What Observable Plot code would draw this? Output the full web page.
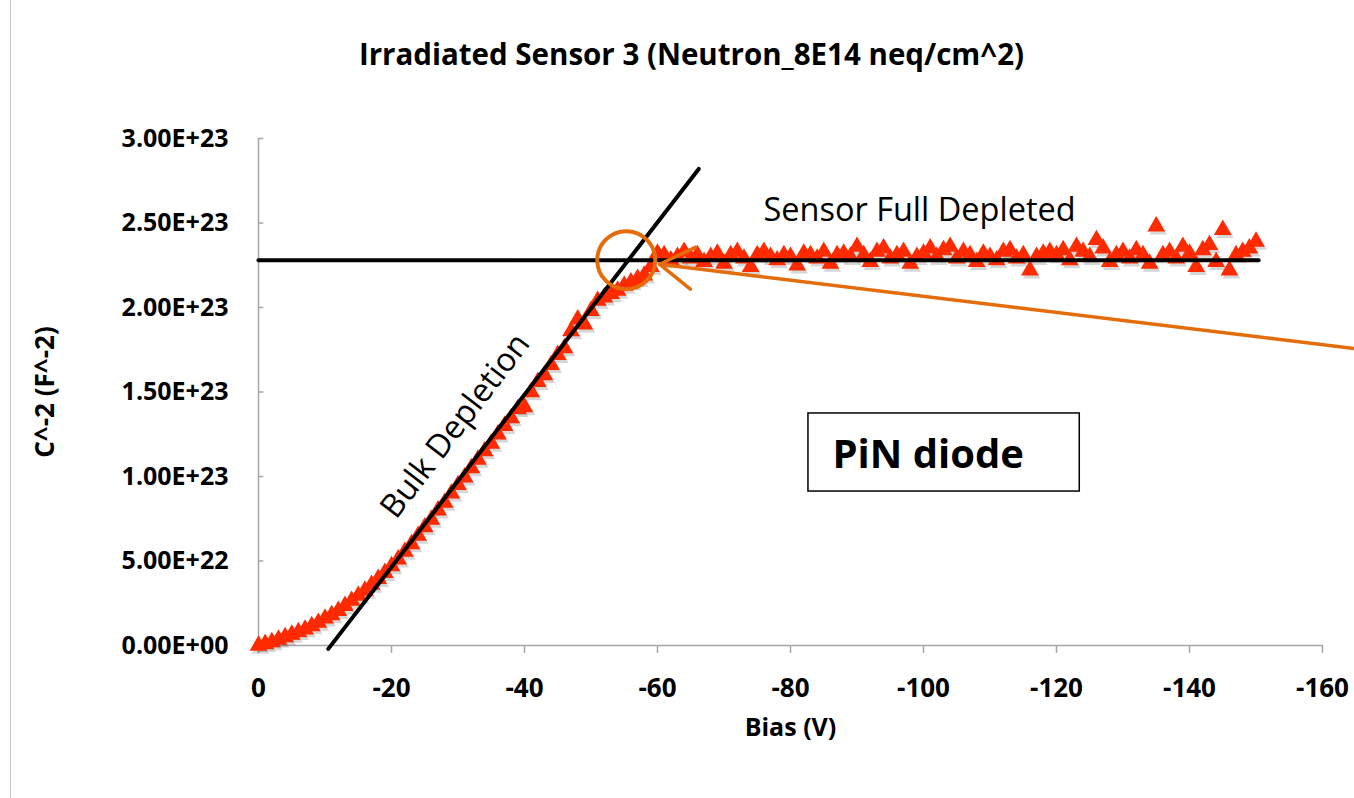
<!DOCTYPE html>
<html><head><meta charset="utf-8">
<script src="https://cdn.jsdelivr.net/npm/d3@7"></script>
<script src="https://cdn.jsdelivr.net/npm/@observablehq/plot@0.6"></script>
<style>
body{margin:0;background:#fff;}
#wrap{position:relative;width:1354px;height:798px;overflow:hidden;}
#border{position:absolute;left:10px;top:0;height:798px;border-left:1px solid #c8c8c8;}
#wrap svg{position:absolute;left:0;top:0;}
</style></head><body><div id="wrap"><div id="border"></div></div>
<script>
// Bias magnitude (V); axis labels shown as negative values
const biasV = [0,1,2,3,4,5,6,7,8,9,10,11,12,13,14,15,16,17,18,19,20,21,22,23,24,25,26,27,28,29,30,31,32,33,34,35,36,37,38,39,40,41,42,43,44,45,46,47,48,49,50,51,52,53,54,55,56,57,58,59,60,61,62,63,64,65,66,67,68,69,70,71,72,73,74,75,76,77,78,79,80,81,82,83,84,85,86,87,88,89,90,91,92,93,94,95,96,97,98,99,100,101,102,103,104,105,106,107,108,109,110,111,112,113,114,115,116,117,118,119,120,121,122,123,124,125,126,127,128,129,130,131,132,133,134,135,136,137,138,139,140,141,142,143,144,145,146,147,148,149,150];
// C^-2 in units of 1E+23 F^-2
const invC2 = [0.000,0.010,0.020,0.035,0.050,0.065,0.080,0.095,0.115,0.135,0.160,0.180,0.205,0.235,0.265,0.295,0.325,0.360,0.395,0.430,0.470,0.510,0.555,0.600,0.650,0.700,0.745,0.800,0.845,0.900,0.950,0.995,1.050,1.100,1.150,1.195,1.250,1.300,1.345,1.400,1.410,1.500,1.560,1.600,1.660,1.720,1.760,1.860,1.930,1.900,1.980,2.040,2.060,2.080,2.100,2.130,2.150,2.170,2.190,2.240,2.320,
2.31,2.28,2.30,2.33,2.29,2.31,2.27,2.30,2.32,2.26,2.31,2.33,2.29,2.24,2.31,2.33,2.30,2.28,2.31,2.30,2.25,2.32,2.31,2.29,2.33,2.26,2.31,2.32,2.30,2.36,2.31,2.27,2.33,2.35,2.29,2.31,2.33,2.26,2.30,2.32,2.35,2.30,2.34,2.36,2.29,2.33,2.31,2.27,2.32,2.30,2.28,2.33,2.34,2.29,2.31,2.22,2.30,2.32,2.33,2.31,2.34,2.28,2.36,2.33,2.30,2.40,2.35,2.27,2.31,2.33,2.29,2.34,2.31,2.26,2.48,2.31,2.33,2.29,2.36,2.32,2.24,2.34,2.37,2.27,2.46,2.22,2.31,2.33,2.35,2.39];
const xTicks = [0,20,40,60,80,100,120,140,160];
const yTicks = [0,0.5,1,1.5,2,2.5,3];
const titleText = "Irradiated Sensor 3 (Neutron_8E14 neq/cm^2)";
const xLabel = "Bias (V)";
const yLabel = "C^-2 (F^-2)";
// annotation geometry in data units
const fitLine = [{x:10.5,y:-0.02},{x:66.2,y:2.82}];
const plateauLine = [{x:0,y:2.28},{x:150.4,y:2.28}];
const marker = [{x:55.3,y:2.28}];
const arrowPts = [{x1:164.8,y1:1.757,x2:60.3,y2:2.256}];
const box = [{x1:82.7,x2:123.5,y1:0.911,y2:1.373}];
const notes = [
  {x:99.4,y:2.574,text:"Sensor Full Depleted",rot:0},
  {x:29.6,y:1.30,text:"Bulk Depletion",rot:-52.5}
];
const boxLabel = [{x:86.3,y:1.124,text:"PiN diode"}];

const data = biasV.map((v,i)=>({v, c:invC2[i]}));
const yFmt = d => (d*1e23).toExponential(2).toUpperCase().replace(/E([+-])(\d)$/,"E$10$2");
const xFmt = d => d===0 ? "0" : "-"+d;
const FONT = "'Open Sans', sans-serif";
const red = "#ff2a00";
const orange = "#e46c0a";
const grey = "#a6a6a6";

const chart = Plot.plot({
  width:1354, height:798,
  marginLeft:258, marginRight:32, marginTop:138, marginBottom:153,
  style:{fontFamily:FONT, background:"transparent", overflow:"visible"},
  x:{domain:[0,160]},
  y:{domain:[0,3]},
  marks:[
    Plot.ruleY([0],{x1:0,x2:160,stroke:grey,strokeWidth:1.5}),
    Plot.ruleX([0],{y1:0,y2:3,stroke:grey,strokeWidth:1.5}),
    Plot.ruleY(yTicks,{x1:0,x2:0.8,stroke:grey,strokeWidth:1.5}),
    Plot.axisX({ticks:xTicks,tickFormat:xFmt,tickSize:8,tickPadding:25,stroke:grey,strokeWidth:1.5,fontSize:26,fontWeight:"bold",fill:"#000",label:null}),
    Plot.axisY({ticks:yTicks,tickFormat:yFmt,tickSize:0,tickPadding:30,fontSize:25,fontWeight:"bold",fill:"#000",label:null}),
    Plot.text([xLabel],{frameAnchor:"bottom",lineAnchor:"middle",dy:82,text:d=>d,fontSize:25,fontWeight:"bold",fill:"#000"}),
    Plot.text([yLabel],{frameAnchor:"left",textAnchor:"middle",lineAnchor:"middle",dx:-213,rotate:-90,text:d=>d,fontSize:26,fontWeight:"bold",fill:"#000"}),
    Plot.text([titleText],{frameAnchor:"top",lineAnchor:"middle",dy:-83,dx:-99,text:d=>d,fontSize:29.5,fontWeight:"bold",fill:"#000"}),
    Plot.dot(data,{x:"v",y:"c",symbol:"triangle",r:6.6,fill:"#000",fillOpacity:0.16,dx:2,dy:3,stroke:"none"}),
    Plot.dot(data,{x:"v",y:"c",symbol:"triangle",r:6.6,fill:red,stroke:"none"}),
    Plot.line(fitLine,{x:"x",y:"y",stroke:"#000",strokeWidth:4}),
    Plot.line(plateauLine,{x:"x",y:"y",stroke:"#000",strokeWidth:4}),
    Plot.rect(box,{x1:"x1",x2:"x2",y1:"y1",y2:"y2",fill:"#fff",stroke:"#000",strokeWidth:1.5}),
    Plot.text(boxLabel,{x:"x",y:"y",text:"text",textAnchor:"start",fontSize:40,fontWeight:"bold",fill:"#000"}),
    Plot.text(notes,{x:"x",y:"y",text:"text",rotate:"rot",fontSize:32.5,fill:"#000"}),
    Plot.dot(marker,{x:"x",y:"y",r:29,stroke:orange,strokeWidth:4,fill:"none"}),
    Plot.arrow(arrowPts,{x1:"x1",y1:"y1",x2:"x2",y2:"y2",stroke:orange,strokeWidth:3.5,headLength:17,headAngle:64,bend:0})
  ]
});
document.getElementById("wrap").appendChild(chart);
</script></body></html>
